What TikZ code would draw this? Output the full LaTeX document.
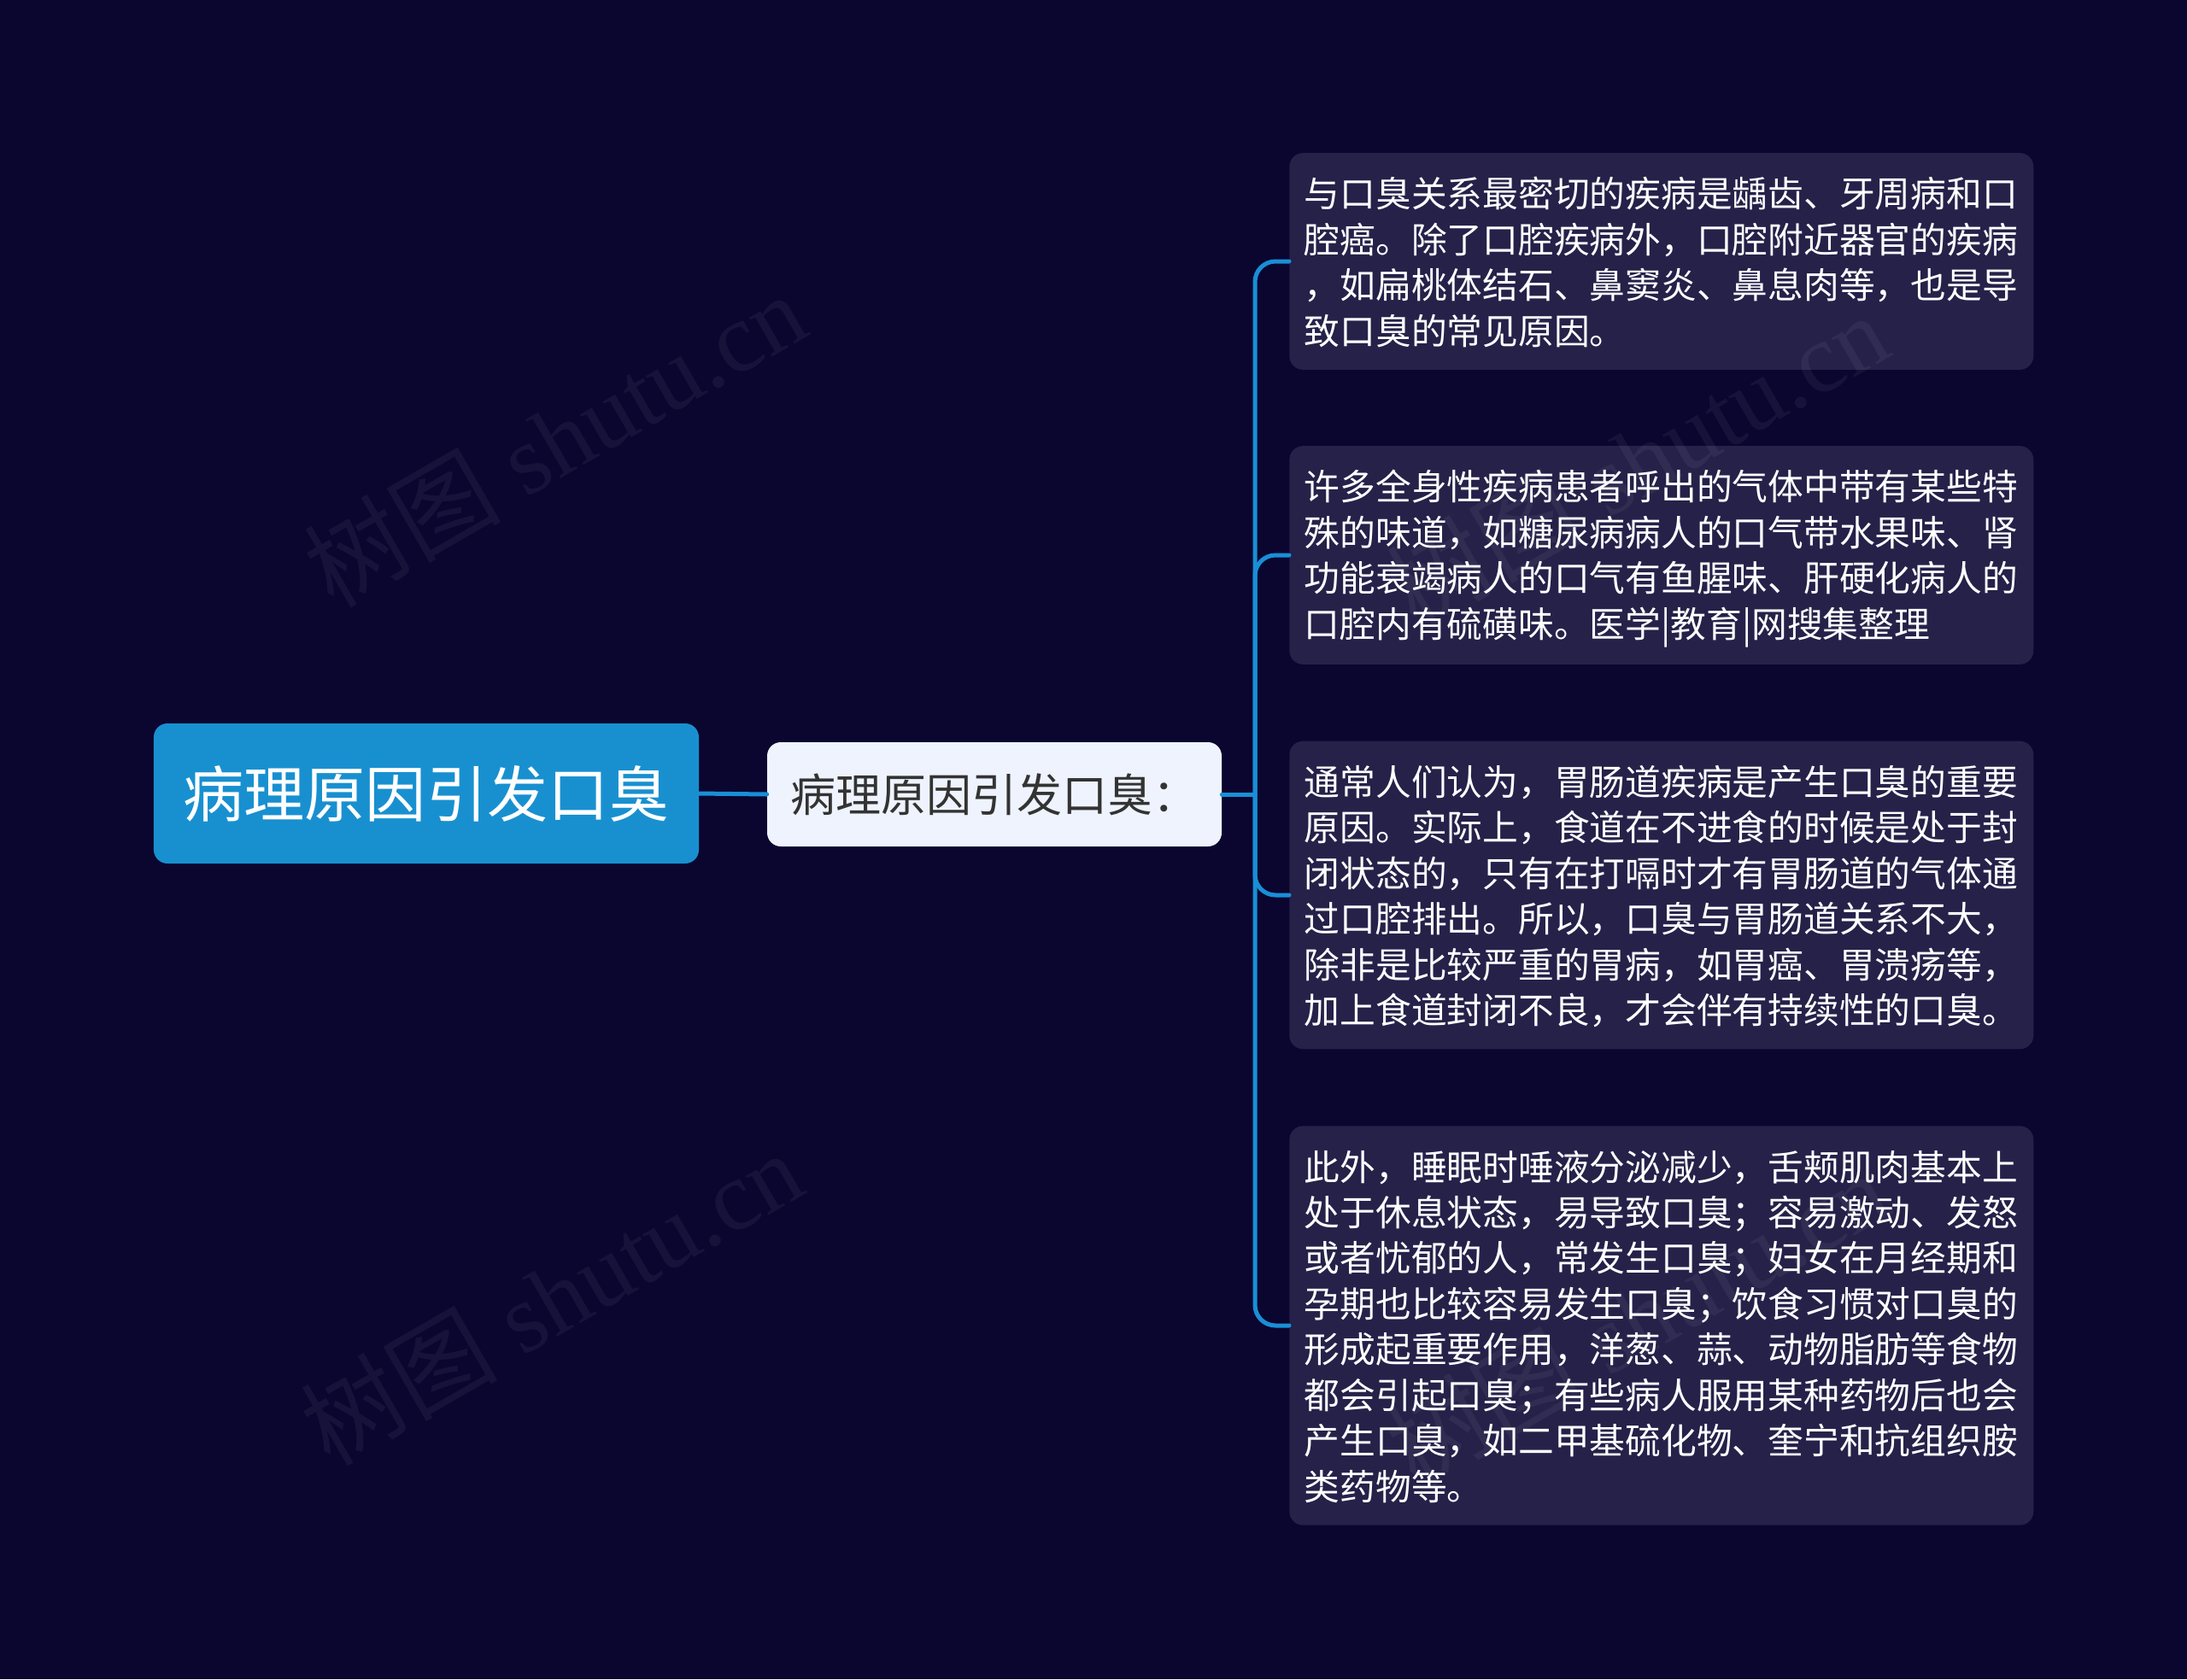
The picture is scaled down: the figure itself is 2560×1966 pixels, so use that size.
\documentclass[tikz,border=0pt]{standalone}
\usepackage{fontspec}
\setmainfont{Liberation Serif}
\newfontfamily\cjk{Noto Sans CJK SC}
\usetikzlibrary{positioning}
\definecolor{qqqqtt}{rgb}{0.04,0.024,0.19}
\definecolor{ttttzz}{rgb}{0.145,0.13,0.286}
\definecolor{qqzzff}{rgb}{0.1,0.56,0.84}
\definecolor{qqzzcc}{rgb}{0.094,0.565,0.816}
\definecolor{eeffff}{rgb}{0.933,0.953,0.992}
\definecolor{zzzzzz}{rgb}{0.2,0.2,0.2}
\newcommand{\leafstrut}{\rule[-.18\baselineskip]{0pt}{\baselineskip}}

\begin{document}
\begin{tikzpicture}[line cap=round,line join=round,x=0.25mm,y=-0.25mm,
	link/.style={color=qqzzff,line width=1.25mm},
	leaf/.style={fill=ttttzz,rounded corners=4mm,anchor=west,text width=209mm,inner xsep=4.375mm,inner ysep=5mm,align=left,text=white,
		font=\cjk\fontsize{29.7}{38}\selectfont,execute at begin node=\leafstrut,execute at end node=\leafstrut},
	wmark/.style={text=white,text opacity=0.05,rotate=30,font=\fontsize{82}{84}\selectfont}]
	\fill[color=qqqqtt] (0,0) rectangle (2560,1966);
	\useasboundingbox (0,0) rectangle (2560,1966);
	\node[fill=qqzzcc,rounded corners=4mm,minimum width=159.5mm,minimum height=41mm,text=white,font=\cjk\fontsize{50.6}{60}\selectfont] (root) at (499,929) {病理原因引发口臭};
	\node[fill=eeffff,rounded corners=4mm,minimum width=133mm,minimum height=30.5mm,text=zzzzzz,font=\cjk\fontsize{37.7}{45}\selectfont] (cause) at (1164,930) {病理原因引发口臭：};
	\coordinate (trunk) at (1469,930);
	\node[leaf] (oral) at (1509,306) {与口臭关系最密切的疾病是龋齿、牙周病和口\\腔癌。除了口腔疾病外，口腔附近器官的疾病\\，如扁桃体结石、鼻窦炎、鼻息肉等，也是导\\致口臭的常见原因。};
	\node[leaf] (body) at (1509,650) {许多全身性疾病患者呼出的气体中带有某些特\\殊的味道，如糖尿病病人的口气带水果味、肾\\功能衰竭病人的口气有鱼腥味、肝硬化病人的\\口腔内有硫磺味。医学|教育|网搜集整理};
	\node[leaf] (gut) at (1509,1048) {通常人们认为，胃肠道疾病是产生口臭的重要\\原因。实际上，食道在不进食的时候是处于封\\闭状态的，只有在打嗝时才有胃肠道的气体通\\过口腔排出。所以，口臭与胃肠道关系不大，\\除非是比较严重的胃病，如胃癌、胃溃疡等，\\加上食道封闭不良，才会伴有持续性的口臭。};
	\node[leaf] (other) at (1509,1552) {此外，睡眠时唾液分泌减少，舌颊肌肉基本上\\处于休息状态，易导致口臭；容易激动、发怒\\或者忧郁的人，常发生口臭；妇女在月经期和\\孕期也比较容易发生口臭；饮食习惯对口臭的\\形成起重要作用，洋葱、蒜、动物脂肪等食物\\都会引起口臭；有些病人服用某种药物后也会\\产生口臭，如二甲基硫化物、奎宁和抗组织胺\\类药物等。};
	\draw[link] (root.east) -- (cause.west);
	\draw[link] (cause.east) -- (trunk);
	\foreach \b in {oral,body,gut,other}
	\draw[link,rounded corners=6mm] (trunk) |- (\b.west);
	\node[wmark] (wm1) at (649,514) {{\cjk 树图} shutu.cn};
	\node[wmark] (wm2) at (645,1519) {{\cjk 树图} shutu.cn};
	\node[wmark] (wm3) at (1916,538) {{\cjk 树图} shutu.cn};
	\node[wmark] (wm4) at (1916,1543) {{\cjk 树图} shutu.cn};
\end{tikzpicture}
\end{document}
